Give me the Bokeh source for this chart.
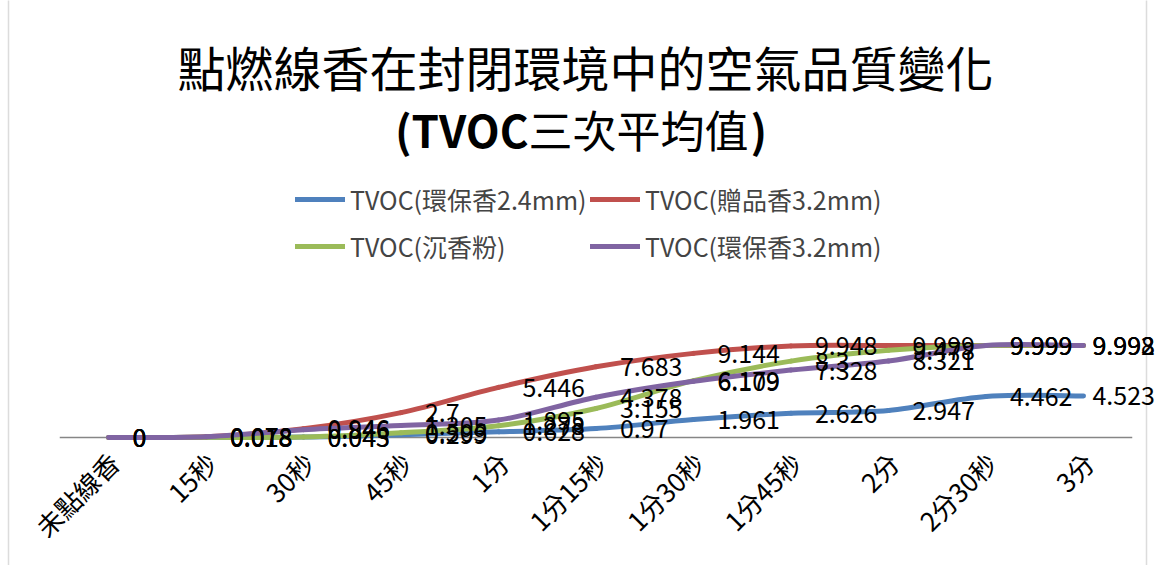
import math
from bokeh.plotting import figure
from bokeh.models import Range1d, Label, Legend, LegendItem, ColumnDataSource, BoxAnnotation
from bokeh.core.properties import value
from bokeh.embed import file_html
from bokeh.resources import INLINE

# ---------------- data ----------------
categories = ["未點線香", "15秒", "30秒", "45秒", "1分", "1分15秒",
              "1分30秒", "1分45秒", "2分", "2分30秒", "3分"]
series_names = ["TVOC(環保香2.4mm)", "TVOC(贈品香3.2mm)",
                "TVOC(沉香粉)", "TVOC(環保香3.2mm)"]
tvoc_eco_24 = [0, 0.018, 0.043, 0.299, 0.628, 0.97, 1.961, 2.626, 2.947, 4.462, 4.523]
tvoc_gift_32 = [0, 0.078, 0.946, 2.7, 5.446, 7.683, 9.144, 9.948, 9.999, 9.999, 9.998]
tvoc_agarwood = [0, 0.018, 0.045, 0.505, 1.278, 3.155, 6.179, 8.3, 9.478, 9.999, 9.993]
tvoc_eco_32 = [0, 0.078, 0.846, 1.305, 1.895, 4.378, 6.109, 7.328, 8.321, 9.999, 9.992]

series_values = [tvoc_eco_24, tvoc_gift_32, tvoc_agarwood, tvoc_eco_32]
colors = ["#4F81BD", "#C0504D", "#9BBB59", "#8064A2"]

FONT = "Noto Sans CJK TC"
n_cat = len(categories)

p = figure(width=1162, height=565, output_backend="svg", toolbar_location=None,
           x_range=Range1d(-1.1077, 10.8103), y_range=Range1d(-13.913, 47.5),
           min_border_left=0, min_border_right=0, min_border_top=0,
           min_border_bottom=0)
p.outline_line_color = None
p.xgrid.visible = False
p.ygrid.visible = False
p.xaxis.visible = False
p.yaxis.visible = False
p.background_fill_color = "white"
p.border_fill_color = "white"

# chart-area border
p.add_layout(BoxAnnotation(left=8, right=1146, bottom=-30, top=600,
                           left_units="screen", right_units="screen",
                           bottom_units="screen", top_units="screen",
                           fill_alpha=0, line_color="#8a8a8a", line_width=1.5,
                           level="underlay"))

# horizontal category axis line
p.segment(x0=[-0.5], y0=[0], x1=[n_cat - 0.5], y1=[0],
          line_color="#868686", line_width=1.5, level="underlay")

# category tick labels (rotated)
p.text(x=list(range(n_cat)), y=[0] * n_cat, text=categories,
       angle=math.pi / 4, x_offset=5, y_offset=20,
       text_align="right", text_baseline="middle",
       text_font=value(FONT), text_font_size="26px", text_color="black")


def bezier_source(vals):
    n = len(vals)
    xs = list(range(n))
    d = dict(x0=[], y0=[], x1=[], y1=[], cx0=[], cy0=[], cx1=[], cy1=[])
    for i in range(n - 1):
        pm = max(i - 1, 0)
        pn = min(i + 2, n - 1)
        d["x0"].append(xs[i]); d["y0"].append(vals[i])
        d["x1"].append(xs[i + 1]); d["y1"].append(vals[i + 1])
        d["cx0"].append(xs[i] + (xs[i + 1] - xs[pm]) / 6)
        d["cy0"].append(vals[i] + (vals[i + 1] - vals[pm]) / 6)
        d["cx1"].append(xs[i + 1] - (xs[pn] - xs[i]) / 6)
        d["cy1"].append(vals[i + 1] - (vals[pn] - vals[i]) / 6)
    return ColumnDataSource(d)


renderers = []
for vals, col in zip(series_values, colors):
    r = p.bezier(x0="x0", y0="y0", x1="x1", y1="y1", cx0="cx0", cy0="cy0",
                 cx1="cx1", cy1="cy1", source=bezier_source(vals),
                 line_color=col, line_width=5, line_cap="round")
    renderers.append(r)

# data labels
for vals in series_values:
    n = len(vals)
    src = ColumnDataSource(dict(
        x=list(range(n)), y=vals, t=[f"{v:g}" for v in vals],
        xo=[24] * (n - 1) + [9]))
    p.text(x="x", y="y", text="t", source=src, x_offset="xo",
           text_align="left", text_baseline="middle",
           text_font=value(FONT), text_font_size="25px", text_color="black")

# legends (two columns)
leg_common = dict(padding=0, margin=0, border_line_color=None,
                  background_fill_alpha=0, label_text_font=FONT,
                  label_text_font_size="25px", glyph_width=50,
                  glyph_height=42, label_height=42, spacing=5,
                  label_standoff=5)
leg1 = Legend(items=[LegendItem(label=series_names[0], renderers=[renderers[0]]),
                     LegendItem(label=series_names[2], renderers=[renderers[2]])],
              location=(295, 298), **leg_common)
leg2 = Legend(items=[LegendItem(label=series_names[1], renderers=[renderers[1]]),
                     LegendItem(label=series_names[3], renderers=[renderers[3]])],
              location=(590, 298), **leg_common)
p.add_layout(leg1)
p.add_layout(leg2)

# titles
p.add_layout(Label(x=585, y=500, x_units="screen", y_units="screen",
                   text="點燃線香在封閉環境中的空氣品質變化",
                   text_align="center", text_baseline="middle",
                   text_font=FONT, text_font_size="48px", text_color="black"))
p.add_layout(Label(x=528, y=437, x_units="screen", y_units="screen",
                   text="(TVOC", text_align="right", text_baseline="middle",
                   text_font=FONT, text_font_size="44px", text_font_style="bold",
                   text_color="black"))
p.add_layout(Label(x=528, y=437, x_units="screen", y_units="screen",
                   text="三次平均值", text_align="left", text_baseline="middle",
                   text_font=FONT, text_font_size="44px", text_color="black"))
p.add_layout(Label(x=750, y=437, x_units="screen", y_units="screen",
                   text=")", text_align="left", text_baseline="middle",
                   text_font=FONT, text_font_size="44px", text_font_style="bold",
                   text_color="black"))

open("out.html", "w").write(file_html(p, INLINE))
